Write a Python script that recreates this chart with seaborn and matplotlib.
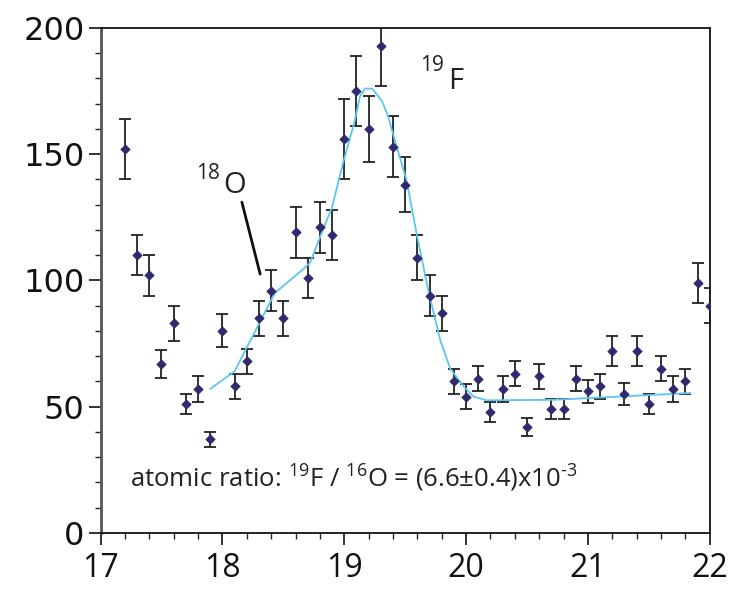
import numpy as np
import pandas as pd
import seaborn as sns
import matplotlib.pyplot as plt

# measured points
mass = [17.2, 17.3, 17.4, 17.5, 17.6, 17.7, 17.8, 17.9, 18.0, 18.1,
        18.2, 18.3, 18.4, 18.5, 18.6, 18.7, 18.8, 18.9, 19.0, 19.1,
        19.2, 19.3, 19.4, 19.5, 19.6, 19.7, 19.8, 19.9, 20.0, 20.1,
        20.2, 20.3, 20.4, 20.5, 20.6, 20.7, 20.8, 20.9, 21.0, 21.1,
        21.2, 21.3, 21.4, 21.5, 21.6, 21.7, 21.8, 21.9, 22.0]
counts = [152, 110, 102, 67, 83, 51, 57, 37, 80, 58,
          68, 85, 96, 85, 119, 101, 121, 118, 156, 175,
          160, 193, 153, 138, 109, 94, 87, 60, 54, 61,
          48, 57, 63, 42, 62, 49, 49, 61, 56, 58,
          72, 55, 72, 51, 65, 57, 60, 99, 90]
err = [12, 8, 8, 5.5, 7, 4, 5, 3, 6.5, 5,
       5, 7, 8, 7, 10, 8, 10, 10, 16, 14,
       13, 16, 12, 11, 9, 8, 7, 5, 5, 5,
       4, 5, 5, 3.5, 5, 4, 4, 5, 4.5, 5,
       6, 4.5, 6, 4, 5, 5, 5, 8, 7]

# fitted curve
fit_x = [17.9, 18.1, 18.43, 18.64, 18.72, 18.8, 18.9, 18.99, 19.08, 19.13,
         19.17, 19.23, 19.31, 19.36, 19.43, 19.51, 19.6, 19.69, 19.79, 19.87,
         19.98, 20.06, 20.17, 20.72, 21.27, 21.84]
fit_y = [57, 64, 95, 103.5, 107, 117, 129, 146.5, 162, 173,
         176, 176, 171, 165, 153, 140, 117, 96, 76, 65,
         58, 54, 52.5, 52.7, 54, 55.4]

df = pd.DataFrame({'mass': mass, 'counts': counts, 'err': err})
df_fit = pd.DataFrame({'mass': fit_x, 'counts': fit_y})

sns.set_style('ticks')
plt.rcParams['font.family'] = ['Open Sans', 'DejaVu Sans']
plt.rcParams['mathtext.fontset'] = 'custom'
plt.rcParams['mathtext.rm'] = 'Open Sans'
plt.rcParams['mathtext.it'] = 'Open Sans'

fig = plt.figure(figsize=(7.34, 5.96), dpi=100)
ax = fig.add_axes([0.137, 0.106, 0.830, 0.847])

ax.errorbar(df['mass'], df['counts'], yerr=df['err'], fmt='none',
            ecolor='#222222', elinewidth=1.3, capsize=4, capthick=1.3, zorder=2)
sns.lineplot(data=df_fit, x='mass', y='counts', ax=ax, color='#5cc6f2',
             linewidth=1.3, sort=False, zorder=3)
sns.scatterplot(data=df, x='mass', y='counts', ax=ax, marker='D', s=24,
                color='#2f2a70', edgecolor='#2f2a70', zorder=4)

ax.set_xlim(17, 22)
ax.set_ylim(0, 200)
ax.set_xticks([17, 18, 19, 20, 21, 22])
ax.set_xticks(np.arange(17, 22.01, 0.2), minor=True)
ax.set_yticks([0, 50, 100, 150, 200])
ax.set_yticks(np.arange(0, 201, 10), minor=True)
ax.set_xlabel('')
ax.set_ylabel('')
ax.tick_params(axis='both', which='major', length=8.5, width=1.2,
               direction='out', colors='#111111')
ax.tick_params(axis='both', which='minor', length=4, width=1.0, direction='out')
ax.tick_params(axis='x', labelsize=23, pad=5)
ax.tick_params(axis='y', labelsize=23, pad=3)
for lab in ax.get_yticklabels():
    lab.set_fontfamily('DejaVu Sans')

for side in ['top', 'right', 'bottom']:
    ax.spines[side].set_color('#111111')
    ax.spines[side].set_linewidth(1.3)
ax.spines['left'].set_color('#555555')
ax.spines['left'].set_linewidth(2.0)

# peak labels
ax.text(19.62, 183, '19', fontsize=15, color='#222222')
ax.text(19.85, 176, 'F', fontsize=21, color='#222222')
ax.text(17.785, 140, '18', fontsize=15, color='#222222')
ax.text(18.01, 134.8, 'O', fontsize=21, color='#222222')
ax.plot([18.16, 18.31], [131, 102.5], color='#111111', linewidth=2)

ax.text(17.24, 18, 'atomic ratio: $^{19}$F / $^{16}$O = (6.6\u00b10.4)x10$^{\\text{-}3}$',
        fontsize=18.5, color='#222222')

fig.savefig('out.png', dpi=100)
